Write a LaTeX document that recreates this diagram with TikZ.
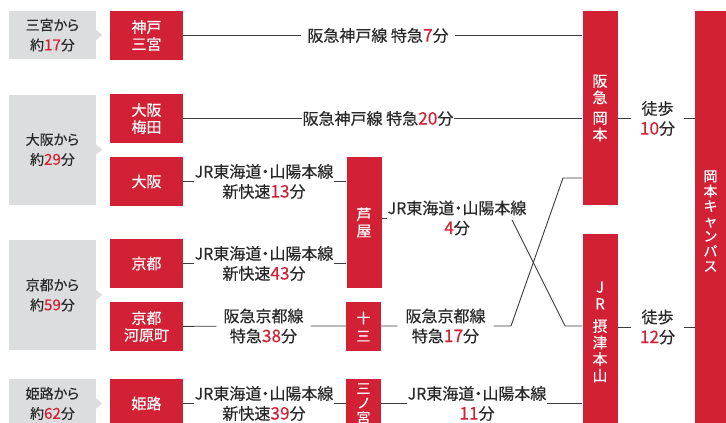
\documentclass[tikz,border=0pt]{standalone}
\usepackage{fontspec}
\setmainfont{Noto Sans CJK JP}[RawFeature=+palt, FakeBold=0.3]
\usepackage{xcolor}
\usetikzlibrary{positioning}
\definecolor{stationred}{RGB}{210, 33, 52}
\definecolor{boxgray}{RGB}{220, 221, 223}
\definecolor{textgray}{RGB}{40, 40, 40}
\definecolor{linegray}{RGB}{60, 60, 60}
\newcommand{\mn}[1]{\textcolor{stationred}{\scalebox{1.08}{#1}}}

\begin{document}
\begin{tikzpicture}[
    x=1pt, y=-1pt,
    origin/.style={fill=boxgray, text=textgray, minimum width=87pt, inner sep=0pt, align=center, font=\fontsize{14}{20}\selectfont},
    station/.style={fill=stationred, text=white, minimum width=73pt, minimum height=49pt, inner sep=0pt, align=center, font=\fontsize{15}{17}\selectfont},
    tall/.style={fill=stationred, text=white, minimum width=35pt, inner sep=0pt, align=center, font=\fontsize{15}{16.5}\selectfont},
    route/.style={text=textgray, inner sep=0pt, align=center, font=\fontsize{16}{20}\selectfont},
    link/.style={draw=linegray, line width=0.9pt}
]
\useasboundingbox (0,0) rectangle (726,423);

% Starting areas
\node[origin, minimum height=48pt] (from1) at (52.5,35) {三宮から\\約\mn{17}分};
\node[origin, minimum height=110pt] (from2) at (52.5,149.5) {大阪から\\約\mn{29}分};
\node[origin, minimum height=110pt] (from3) at (52.5,295) {京都から\\約\mn{59}分};
\node[origin, minimum height=49pt] (from4) at (52.5,403.5) {姫路から\\約\mn{62}分};
\foreach \g in {from1, from2, from3, from4}
    \fill[boxgray] (\g.east) ++(0,-5) -- ++(6,5) -- ++(-6,5) -- cycle;

% Departure stations
\node[station] (kobe) at (146.5,35.5) {神戸\\三宮};
\node[station] (umeda) at (146.5,118.5) {大阪\\梅田};
\node[station] (osaka) at (146.5,181.5) {大阪};
\node[station] (kyoto) at (146.5,263.5) {京都};
\node[station] (kawara) at (146.5,326.5) {京都\\河原町};
\node[station] (himeji) at (146.5,403.5) {姫路};

% Transfer stations
\node[tall, minimum height=131pt] (ashiya) at (364,222.5) {芦\\屋};
\node[tall, minimum height=49pt, font=\fontsize{14}{18}\selectfont] (juso) at (363.5,326.5) {十\\三};
\node[tall, minimum height=49pt, font=\fontsize{14}{14.5}\selectfont] (sanno) at (363.5,403.5) {三\\ノ\\宮};

% Arrival stations
\node[tall, minimum height=194pt] (okamoto) at (600,108) {阪\\急\\[4pt]岡\\本};
\node[tall, minimum height=196pt] (settsu) at (600,332) {J\\R\\[6pt]摂\\津\\本\\山};
\node[tall, minimum width=31pt, minimum height=420pt, font=\fontsize{14}{15}\selectfont] (campus) at (710.5,221) {岡\\本\\キ\\ャ\\ン\\パ\\ス};

% Route labels
\node[route, inner xsep=6pt] (lkobe) at (378,35.5) {阪急神戸線 特急\mn{7}分};
\node[route] (lumeda) at (378,118.5) {阪急神戸線 特急\mn{20}分};
\node[route] (losaka) at (264,181.5) {JR東海道・山陽本線\\新快速\mn{13}分};
\node[route] (lkyoto) at (264,263.5) {JR東海道・山陽本線\\新快速\mn{43}分};
\node[route, inner xsep=7pt] (lkawara) at (263.5,326) {阪急京都線\\特急\mn{38}分};
\node[route] (lhimeji) at (264,403.5) {JR東海道・山陽本線\\新快速\mn{39}分};
\node[route] (lashiya) at (457,218) {JR東海道・山陽本線\\\mn{4}分};
\node[route, inner xsep=8pt] (ljuso) at (445.5,326) {阪急京都線\\特急\mn{17}分};
\node[route] (lsanno) at (477,403.5) {JR東海道・山陽本線\\\mn{11}分};
\node[route, inner xsep=9pt] (lwalk1) at (657.5,118.5) {徒歩\\\mn{10}分};
\node[route, inner xsep=9pt] (lwalk2) at (657.5,327) {徒歩\\\mn{12}分};

% Crossing points
\coordinate (cross1) at (512,220);
\coordinate (cross2) at (565,326);
\coordinate (cross3) at (511,326);
\coordinate (cross4) at (563,178);

% Connections
\draw[link] (kobe) -- (lkobe) -- (okamoto.west |- lkobe);
\draw[link] (umeda) -- (lumeda) -- (okamoto.west |- lumeda);
\draw[link] (osaka) -- (losaka) -- (ashiya.west |- losaka);
\draw[link] (kyoto) -- (lkyoto) -- (ashiya.west |- lkyoto);
\draw[link] (kawara) -- (lkawara) -- (juso.west |- lkawara);
\draw[link] (himeji) -- (lhimeji) -- (sanno.west |- lhimeji);
\draw[link] (ashiya.east |- lashiya) -- (lashiya);
\draw[link] (cross1) -- (cross2) -- (settsu.west |- cross2);
\draw[link] (juso.east |- ljuso) -- (ljuso) -- (cross3) -- (cross4) -- (okamoto.west |- cross4);
\draw[link] (sanno.east |- lsanno) -- (lsanno) -- (settsu.west |- lsanno);
\draw[link] (okamoto.east |- lwalk1) -- (lwalk1) -- (campus.west |- lwalk1);
\draw[link] (settsu.east |- lwalk2) -- (lwalk2) -- (campus.west |- lwalk2);

\end{tikzpicture}
\end{document}
